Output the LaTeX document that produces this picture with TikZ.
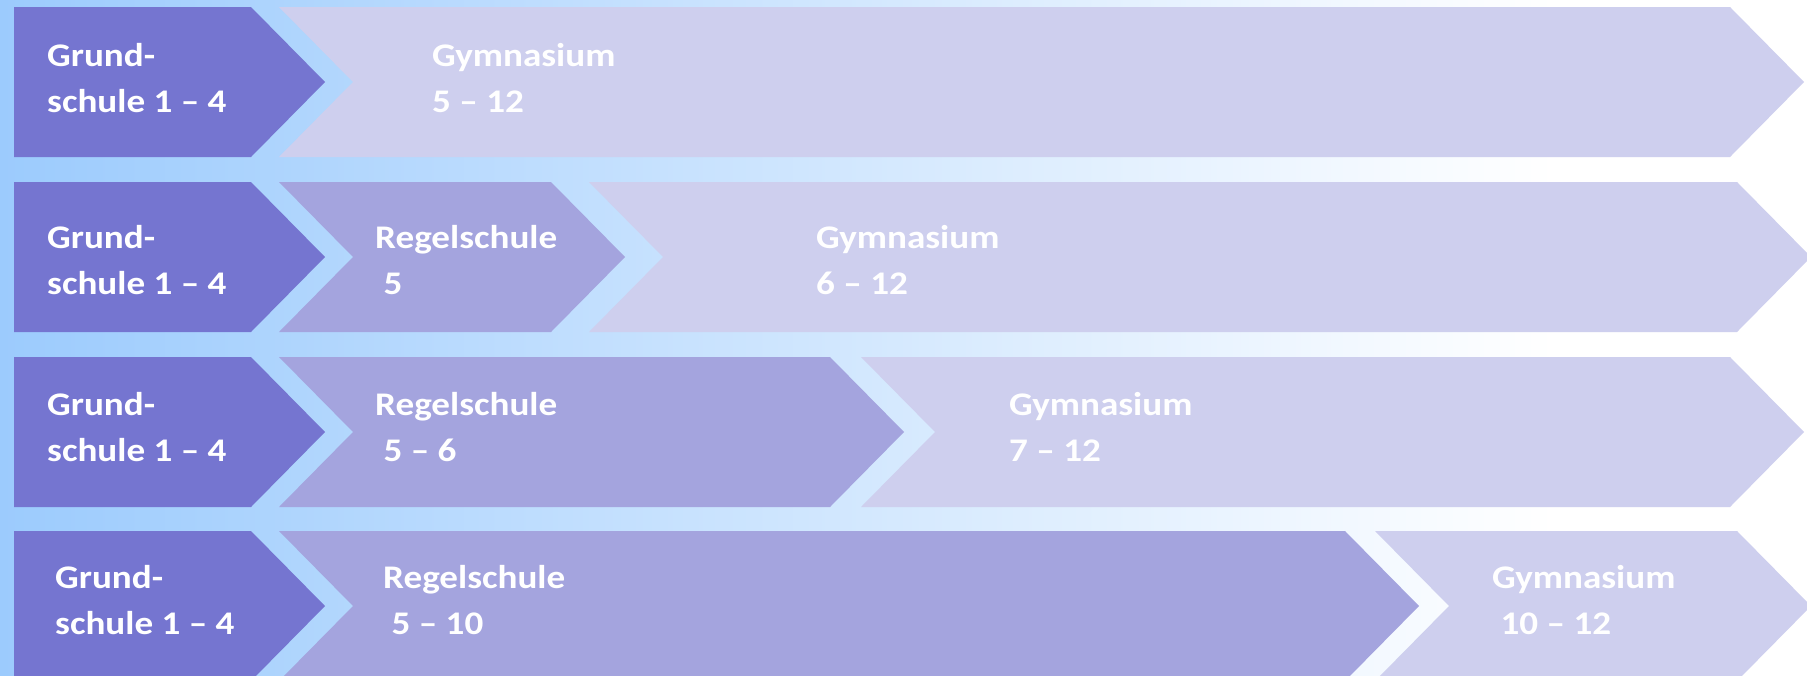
\documentclass[tikz,border=0pt]{standalone}
\usepackage{fontspec}
\setmainfont{Carlito}[FakeStretch=1.125]

\definecolor{grundcol}{HTML}{7575D0}
\definecolor{regelcol}{HTML}{A4A4DE}
\definecolor{gymcol}{HTML}{CECFEE}
\definecolor{bgblue}{HTML}{9CCBFD}
\pgfdeclarehorizontalshading{bgfade}{100bp}{color(0bp)=(bgblue); color(25bp)=(bgblue); color(68bp)=(white); color(100bp)=(white)}

% chevron: colour, top, left, right, notch depth
\newcommand{\chevron}[5]{%
  \fill[#1] (#3,#2) -- (#4,#2) -- ++(74,75) -- (#4,#2+150) -- (#3,#2+150) -- ++(#5,-75) -- cycle;}

\tikzset{
  lbl/.style={text=white, font=\fontsize{33}{46}\selectfont\bfseries, align=left, anchor=base west, inner sep=0pt}
}

\begin{document}
\begin{tikzpicture}[x=1pt, y=-1pt]
\useasboundingbox (0,0) rectangle (1807,675);
\clip (0,0) rectangle (1807,675);
\shade[shading=bgfade] (0,0) rectangle (1807,675);

\chevron{grundcol}{7}{14}{251}{0}
\chevron{gymcol}{7}{279}{1730}{74}

\chevron{grundcol}{182}{14}{251}{0}
\chevron{regelcol}{182}{279}{551}{74}
\chevron{gymcol}{182}{589}{1737}{74}

\chevron{grundcol}{357}{14}{251}{0}
\chevron{regelcol}{357}{279}{830}{74}
\chevron{gymcol}{357}{861}{1730}{74}

\chevron{grundcol}{531}{14}{251}{0}
\chevron{regelcol}{531}{279}{1345}{74}
\chevron{gymcol}{531}{1375}{1737}{74}

% the base anchor sits on the second line
\node[lbl] (gs1) at (47,112) {Grund-\\schule 1 -- 4};
\node[lbl] (gy1) at (432,112) {Gymnasium\\5 -- 12};

\node[lbl] (gs2) at (47,294) {Grund-\\schule 1 -- 4};
\node[lbl] (rs2) at (375,294) {Regelschule\\~5};
\node[lbl] (gy2) at (816,294) {Gymnasium\\6 -- 12};

\node[lbl] (gs3) at (47,461) {Grund-\\schule 1 -- 4};
\node[lbl] (rs3) at (375,461) {Regelschule\\~5 -- 6};
\node[lbl] (gy3) at (1009,461) {Gymnasium\\7 -- 12};

\node[lbl] (gs4) at (55,634) {Grund-\\schule 1 -- 4};
\node[lbl] (rs4) at (383,634) {Regelschule\\~5 -- 10};
\node[lbl] (gy4) at (1492,634) {Gymnasium\\~10 -- 12};
\end{tikzpicture}
\end{document}
